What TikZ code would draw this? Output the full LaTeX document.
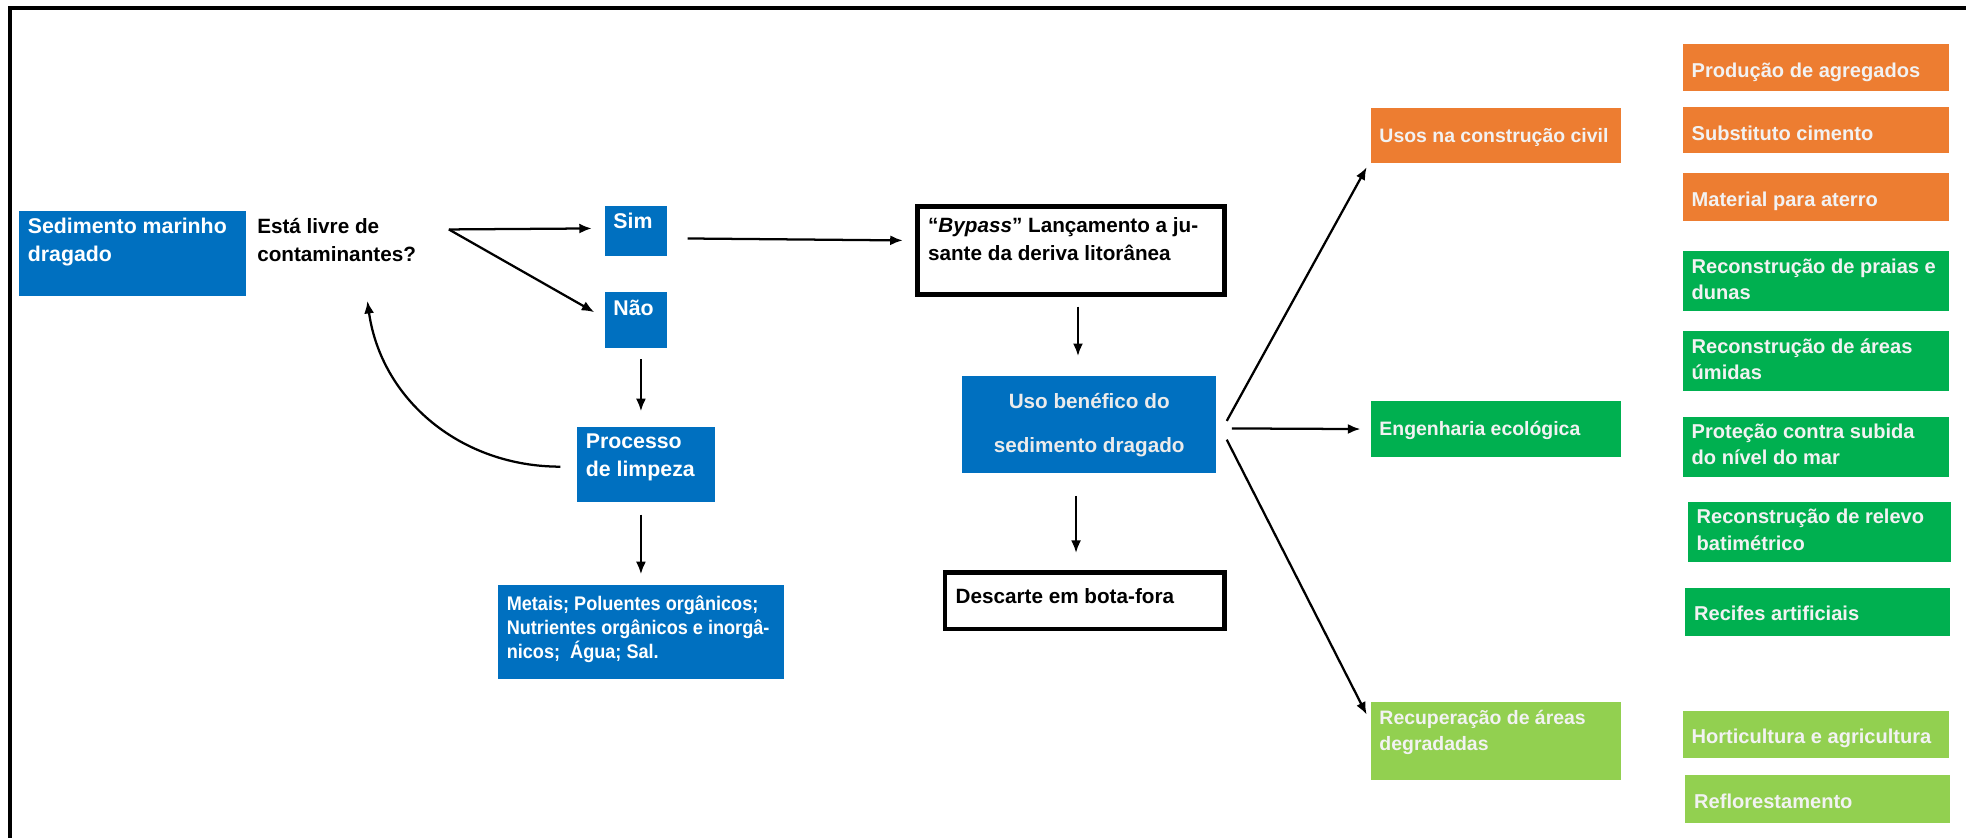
\documentclass[tikz,border=0pt]{standalone}
\usepackage{fontspec}
\setmainfont{Liberation Sans}
\newfontfamily\condf[FakeStretch=0.92]{Liberation Sans}
\usetikzlibrary{arrows.meta,calc}
\definecolor{pblue}{RGB}{0,112,192}
\definecolor{porange}{RGB}{237,125,49}
\definecolor{pgreen}{RGB}{0,176,80}
\definecolor{plgreen}{RGB}{146,208,80}
\begin{document}
\begin{tikzpicture}[x=1pt,y=-1pt,
  bx/.style={rectangle, draw=none, inner sep=0pt, anchor=north west},
  bluebx/.style={bx, fill=pblue},
  orbx/.style={bx, fill=porange},
  grbx/.style={bx, fill=pgreen},
  lgbx/.style={bx, fill=plgreen},
  wbx/.style={bx, fill=white, draw=black, line width=3.5pt},
  lbl/.style={anchor=north west, inner sep=0pt, xshift=7pt, yshift=-6pt, align=left, text=white,
    font=\fontsize{17}{22}\selectfont\bfseries},
  lblr/.style={lbl, font=\fontsize{16}{21}\selectfont\bfseries, text=white!95!black},
  lblc/.style={lbl, font=\fontsize{15.5}{21}\selectfont\bfseries, text=white!95!black},
  lblk/.style={lbl, text=black},
  arr/.style={-{Latex[length=10pt,width=8pt]}, line width=1.8pt, draw=black},
]
\useasboundingbox (0,0) rectangle (1568,668);
\fill[white] (0,0) rectangle (1568,668);
\draw[line width=3.2pt] (8,668) -- (8,6.4) -- (1568,6.4);

% left part
\node[bluebx, minimum width=181pt, minimum height=68pt,
  label={[lbl]north west:{Sedimento marinho\\dragado}}] (sed) at (15,168) {};
\node[anchor=north west, inner sep=0pt, align=left, font=\fontsize{16.5}{22}\selectfont\bfseries] (q) at (205,174) {Está livre de\\contaminantes?};
\node[bluebx, minimum width=50pt, minimum height=40pt,
  label={[lbl]north west:{Sim}}] (sim) at (482,164) {};
\node[bluebx, minimum width=50pt, minimum height=44pt,
  label={[lbl]north west:{Não}}] (nao) at (482,233) {};
\node[bluebx, minimum width=110pt, minimum height=60pt,
  label={[lbl]north west:{Processo\\de limpeza}}] (proc) at (460,340) {};
\node[bluebx, minimum width=228pt, minimum height=75pt,
  label={[lbl, yshift=-3pt, font=\condf\fontsize{15.7}{19}\selectfont\bfseries]north west:{Metais; Poluentes orgânicos;\\Nutrientes orgânicos e inorgâ-\\nicos;\ \ Água; Sal.}}] (met) at (397,466) {};

\coordinate (qs) at (358,183);
\coordinate (loopend) at (293,240);
\draw[arr] (qs) -- ($(sim.west)+(-10,-2)$);
\draw[arr] (qs) -- ($(nao.north west)+(-8,16)$);
\draw[arr] ($(nao.south)+(4,9)$) -- ($(nao.south |- proc.north)+(4,-12)$);
\draw[arr] ($(proc.west)+(-13,2)$) to[out=180,in=-82] (loopend);
\draw[arr] ($(proc.south)+(-4,10)$) -- ($(proc.south |- met.north)+(-4,-8)$);

% middle
\node[wbx, minimum width=245pt, minimum height=70pt,
  label={[lblk, xshift=3pt, yshift=-4pt, font=\fontsize{16.5}{23}\selectfont\bfseries]north west:{“\textit{Bypass}” Lançamento a ju-\\sante da deriva litorânea}}] (byp) at (730,163) {};
\node[bluebx, minimum width=203pt, minimum height=77pt, text=white!92!black, align=center,
  font=\fontsize{16.5}{35}\selectfont\bfseries] (uso) at (767,300) {Uso benéfico do\\sedimento dragado};
\node[wbx, minimum width=223pt, minimum height=45pt,
  label={[lblk, xshift=3pt, yshift=-8pt, font=\fontsize{16.5}{22}\selectfont\bfseries]north west:{Descarte em bota-fora}}] (desc) at (752,455) {};

\draw[arr] ($(sim.east)+(16,6)$) -- ($(byp.west)+(-10,-8)$);
\draw[arr] ($(byp.south)+(5.5,8)$) -- ($(byp.south |- uso.north)+(5.5,-16)$);
\draw[arr] ($(uso.south)+(-10.5,18)$) -- ($(uso.south |- desc.north)+(-10.5,-14)$);

% right: category boxes
\node[orbx, minimum width=200pt, minimum height=44pt,
  label={[lblc, yshift=-10pt]north west:{Usos na construção civil}}] (usos) at (1093,86) {};
\node[grbx, minimum width=200pt, minimum height=44pt,
  label={[lblc, yshift=-10pt]north west:{Engenharia ecológica}}] (eng) at (1093,320) {};
\node[lgbx, minimum width=200pt, minimum height=62pt,
  label={[lblc]north west:{Recuperação de áreas\\degradadas}}] (rec) at (1093,560) {};

\draw[arr] ($(uso.east)+(8,-3)$) -- ($(usos.south west)+(-3,3)$);
\draw[arr] ($(uso.east)+(12,3)$) -- ($(eng.west)+(-8,0)$);
\draw[arr] ($(uso.east)+(8,12)$) -- ($(rec.north west)+(-3,10)$);

% right column
\node[orbx, minimum width=212pt, minimum height=37pt,
  label={[lblr, yshift=-9pt]north west:{Produção de agregados}}] (c1) at (1342,35) {};
\node[orbx, minimum width=212pt, minimum height=37pt,
  label={[lblr, yshift=-9pt]north west:{Substituto cimento}}] (c2) at (1342,85) {};
\node[orbx, minimum width=212pt, minimum height=38pt,
  label={[lblr, yshift=-9pt]north west:{Material para aterro}}] (c3) at (1342,138) {};
\node[grbx, minimum width=212pt, minimum height=48pt,
  label={[lblr]north west:{Reconstrução de praias e\\dunas}}] (g1) at (1342,200) {};
\node[grbx, minimum width=212pt, minimum height=48pt,
  label={[lblr]north west:{Reconstrução de áreas\\úmidas}}] (g2) at (1342,264) {};
\node[grbx, minimum width=212pt, minimum height=48pt,
  label={[lblr]north west:{Proteção contra subida\\do nível do mar}}] (g3) at (1342,332) {};
\node[grbx, minimum width=210pt, minimum height=48pt,
  label={[lblr]north west:{Reconstrução de relevo\\batimétrico}}] (g4) at (1346,400) {};
\node[grbx, minimum width=211pt, minimum height=38pt,
  label={[lblr, yshift=-8pt]north west:{Recifes artificiais}}] (g5) at (1344,469) {};
\node[lgbx, minimum width=212pt, minimum height=37pt,
  label={[lblr, yshift=-8pt]north west:{Horticultura e agricultura}}] (h1) at (1342,567) {};
\node[lgbx, minimum width=211pt, minimum height=38pt,
  label={[lblr, yshift=-9pt]north west:{Reflorestamento}}] (h2) at (1344,618) {};
\end{tikzpicture}
\end{document}
